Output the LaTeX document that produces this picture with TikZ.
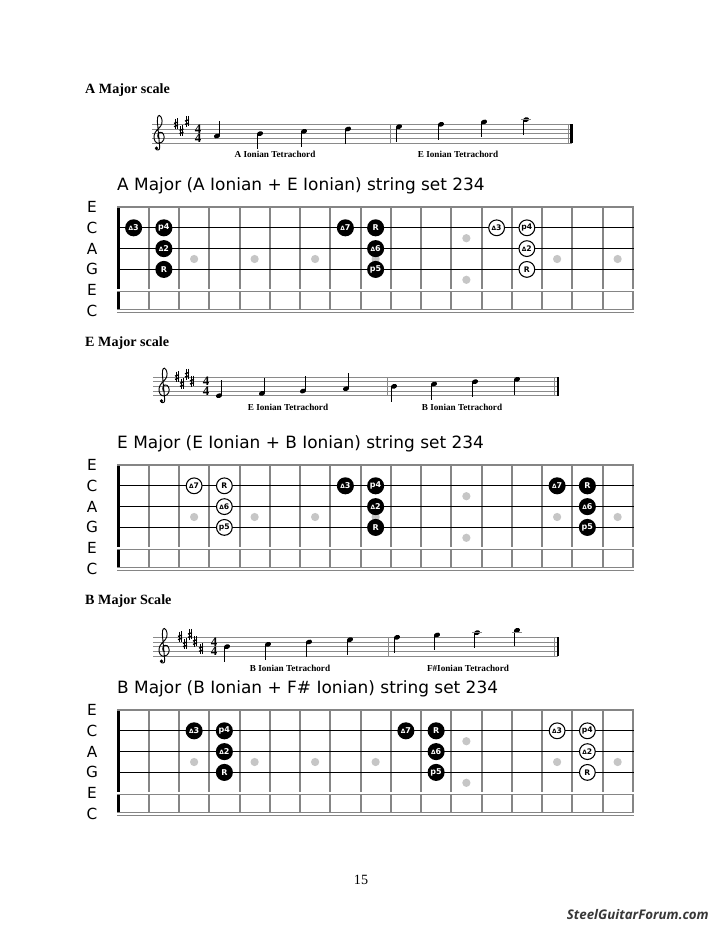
\documentclass[tikz,border=0pt]{standalone}
\usepackage{fontspec}
\setmainfont{Liberation Serif}
\newfontfamily\verdfont{DejaVu Sans}
\newfontfamily\logofont{Open Sans}
\usetikzlibrary{positioning,shapes.geometric}

\definecolor{fretgray}{HTML}{858585}
\definecolor{dotgray}{HTML}{C6C6C6}
\definecolor{stafgray}{HTML}{8A8A8A}
\definecolor{logogray}{HTML}{383838}

% half a staff space, in px
\newcommand{\hs}{2.335}
% middle of fret space #1
\newcommand{\fx}[1]{103.375+30.25*#1}
% small triangle of the interval names
\newcommand{\tri}{{\fontsize{5}{5}\selectfont Δ}}

% five staff lines: x start, x end, y of bottom line
\newcommand{\fivelines}[3]{%
  \foreach \k in {0,...,4}
    \draw[staffline] (#1,#3-\k*4.67) -- (#2,#3-\k*4.67);}

% a sharp at x, y
\newcommand{\sharpat}[2]{%
  \draw[line width=0.45pt] (#1-0.9,#2-5.5) -- (#1-0.9,#2+5) (#1+0.9,#2-6) -- (#1+0.9,#2+4.5);
  \draw[line width=1.1pt] (#1-2,#2-0.9) -- (#1+2,#2-2.3) (#1-2,#2+2.3) -- (#1+2,#2+0.9);}

% treble clef at x, y of bottom line
\newcommand{\gclef}[2]{%
  \begin{scope}[shift={(#1,#2)}, x=3.97pt, y=3.97pt]
    \draw[line width=0.8pt] (1.5,0.9) .. controls (1.0,1.0) and (0.95,2.1) .. (1.6,2.3)
      .. controls (2.3,2.45) and (2.7,1.4) .. (2.4,0.7)
      .. controls (2.1,-0.1) and (1.0,-0.3) .. (0.6,0.3)
      .. controls (0.1,1.0) and (0.3,2.1) .. (0.9,2.7)
      .. controls (1.5,3.3) and (2.1,3.8) .. (2.05,4.7)
      .. controls (2.0,5.4) and (1.7,5.9) .. (1.45,5.9)
      .. controls (1.1,5.9) and (0.95,5.1) .. (1.05,4.5)
      -- (1.55,-0.9)
      .. controls (1.65,-1.6) and (0.8,-1.7) .. (0.65,-1.15);
    \fill (0.85,-1.1) circle[radius=0.38];
  \end{scope}}

% id, x start, x end, bottom line y, clef x, sharps (x/step), time x, notes (x/step), bar x
\newcommand{\scalestaff}[9]{%
  \fivelines{#2}{#3}{#4}
  \gclef{#5}{#4}
  \foreach \kx/\ks in {#6} {\sharpat{\kx}{#4-\ks*\hs}}
  \node[timesig] (#1t) at (#7,#4-4*\hs) {4\\4};
  \foreach \nx/\ns [count=\i] in {#8} {
    \node[notehead] (#1n\i) at (\nx,#4-\ns*\hs) {};
    \ifnum\ns<4 \draw[stem] ([xshift=2.2pt]#1n\i.center) -- ++(0,-15.5);
    \else \draw[stem] ([xshift=-2.2pt]#1n\i.center) -- ++(0,15.5); \fi
    \ifnum\ns>9 \draw[staffline] (\nx-5,#4-10*\hs) -- (\nx+5,#4-10*\hs); \fi
  }
  \draw[barline] (#9,#4) -- (#9,#4-18.68);
}

% id, top y, title, notes (space/string/label/style)
\newcommand{\fretboard}[4]{%
  \node[boardtitle] (#1title) at (117,#2-21) {#3};
  \foreach \lab [count=\k from 0] in {E,C,A,G,E,C}
    \node[strlabel] (#1s\k) at (92,#2+\k*20.8) {\lab};
  \foreach \f in {1,...,17}
    \draw[fretline] (118.5+\f*30.25,#2) -- (118.5+\f*30.25,#2+104);
  \draw[nut] (118.5,#2-1) -- (118.5,#2+105);
  \draw[outerstring] (117,#2) -- (634,#2);
  \draw[thinstring] (117,#2+20.8) -- (634,#2+20.8);
  \draw[thinstring] (117,#2+41.6) -- (634,#2+41.6);
  \draw[outerstring] (117,#2+62.4) -- (634,#2+62.4);
  \draw[thinstring] (117,#2+62.4) -- (634,#2+62.4);
  \draw[dblstring] (117,#2+83.2) -- (634,#2+83.2);
  \draw[dblstring] (117,#2+104) -- (634,#2+104);
  \foreach \sp in {3,5,7,9,15,17}
    \fill[dotgray] (\fx{\sp},#2+52) circle[radius=3.5pt];
  \fill[dotgray] (\fx{12},#2+31.2) circle[radius=3.5pt];
  \fill[dotgray] (\fx{12},#2+72.8) circle[radius=3.5pt];
  \foreach \sp/\si/\lab/\sty [count=\n] in {#4}
    \node[\sty] (#1n\n) at (\fx{\sp},#2+\si*20.8) {\lab};
}

\begin{document}
\begin{tikzpicture}[x=0.85pt, y=-0.85pt,
  heading/.style={anchor=west, inner sep=0, font=\bfseries\fontsize{12}{14}\selectfont},
  tetra/.style={inner sep=0, font=\bfseries\fontsize{7.8}{9}\selectfont},
  staffline/.style={stafgray, line width=0.5pt},
  barline/.style={stafgray, line width=0.6pt},
  stem/.style={line width=0.55pt},
  notehead/.style={ellipse, fill=black, inner sep=0, minimum width=5.4pt, minimum height=3.9pt, rotate=20},
  timesig/.style={inner sep=0, align=center, font=\bfseries\fontsize{11}{7.94}\selectfont},
  boardtitle/.style={anchor=west, inner sep=0, font=\verdfont\fontsize{14.4}{16}\selectfont},
  strlabel/.style={inner sep=0, font=\verdfont\fontsize{13}{15}\selectfont},
  fretline/.style={fretgray, line width=1.7pt},
  nut/.style={black, line width=2.6pt},
  outerstring/.style={fretgray, line width=1.5pt},
  thinstring/.style={black, line width=0.6pt},
  dblstring/.style={fretgray, double=white, line width=0.8pt, double distance=1.3pt},
  bnote/.style={circle, fill=black, text=white, inner sep=0, minimum size=14.5pt,
    font=\verdfont\bfseries\fontsize{6.8}{7}\selectfont},
  wnote/.style={circle, draw=black, line width=0.9pt, fill=white, text=black, inner sep=0,
    minimum size=13.4pt, font=\verdfont\bfseries\fontsize{6.5}{7}\selectfont}]

  \useasboundingbox (0,0) rectangle (720,932);
  \fill[white] (0,0) rectangle (720,932);

  % A major
  \node[heading] (hA) at (85,90) {A Major scale};
  \scalestaff{sA}{152}{572}{143}{152.5}{176/8,181.5/5,187/9}{198}%
    {217/3,260/4,304/5,348/6,399/7,441/8,484/9,526/10}{390}
  \draw[barline] (568,143) -- (568,124.3);
  \draw[black, line width=1.8pt] (571.5,143) -- (571.5,124.3);
  \node[tetra] (lA1) at (275,154) {A Ionian Tetrachord};
  \node[tetra] (lA2) at (458,154) {E Ionian Tetrachord};
  \fretboard{fA}{207}{A Major (A Ionian + E Ionian) string set 234}%
    {1/1/\tri3/bnote, 2/1/p4/bnote, 2/2/\tri2/bnote, 2/3/R/bnote,
     8/1/\tri7/bnote, 9/1/R/bnote, 9/2/\tri6/bnote, 9/3/p5/bnote,
     13/1/\tri3/wnote, 14/1/p4/wnote, 14/2/\tri2/wnote, 14/3/R/wnote}

  % E major
  \node[heading] (hE) at (85,343) {E Major scale};
  \scalestaff{sE}{153}{558}{395.7}{157.5}{177/8,182/5,187/9,192/6}{206}%
    {219/0,262/1,303/2,346/3,394/4,434/5,475/6,517/7}{387}
  \draw[barline] (554.5,395.7) -- (554.5,377);
  \draw[black, line width=1.8pt] (558,395.7) -- (558,377);
  \node[tetra] (lE1) at (288,407) {E Ionian Tetrachord};
  \node[tetra] (lE2) at (462,407) {B Ionian Tetrachord};
  \fretboard{fE}{465}{E Major (E Ionian + B Ionian) string set 234}%
    {3/1/\tri7/wnote, 4/1/R/wnote, 4/2/\tri6/wnote, 4/3/p5/wnote,
     8/1/\tri3/bnote, 9/1/p4/bnote, 9/2/\tri2/bnote, 9/3/R/bnote,
     15/1/\tri7/bnote, 16/1/R/bnote, 16/2/\tri6/bnote, 16/3/p5/bnote}

  % B major
  \node[heading] (hB) at (85,601) {B Major Scale};
  \scalestaff{sB}{153}{558}{656}{157.5}{180/8,185/5,190/9,195/6,201/3}{214}%
    {227/4,268/5,309/6,350/7,397/8,437/9,477/10,517/11}{388}
  \draw[barline] (554.5,656) -- (554.5,637.3);
  \draw[black, line width=1.8pt] (558,656) -- (558,637.3);
  \node[tetra] (lB1) at (290,668) {B Ionian Tetrachord};
  \node[tetra] (lB2) at (468,668) {F\#Ionian Tetrachord};
  \fretboard{fB}{710}{B Major (B Ionian + F\# Ionian) string set 234}%
    {3/1/\tri3/bnote, 4/1/p4/bnote, 4/2/\tri2/bnote, 4/3/R/bnote,
     10/1/\tri7/bnote, 11/1/R/bnote, 11/2/\tri6/bnote, 11/3/p5/bnote,
     15/1/\tri3/wnote, 16/1/p4/wnote, 16/2/\tri2/wnote, 16/3/R/wnote}

  % page foot
  \node[font=\fontsize{12}{14}\selectfont, inner sep=0] (page) at (361,880) {15};
  \node[font=\logofont\bfseries\itshape\fontsize{11.3}{12}\selectfont, text=logogray,
    anchor=east, inner sep=0] (logo) at (709,915) {SteelGuitarForum.com};
\end{tikzpicture}
\end{document}
